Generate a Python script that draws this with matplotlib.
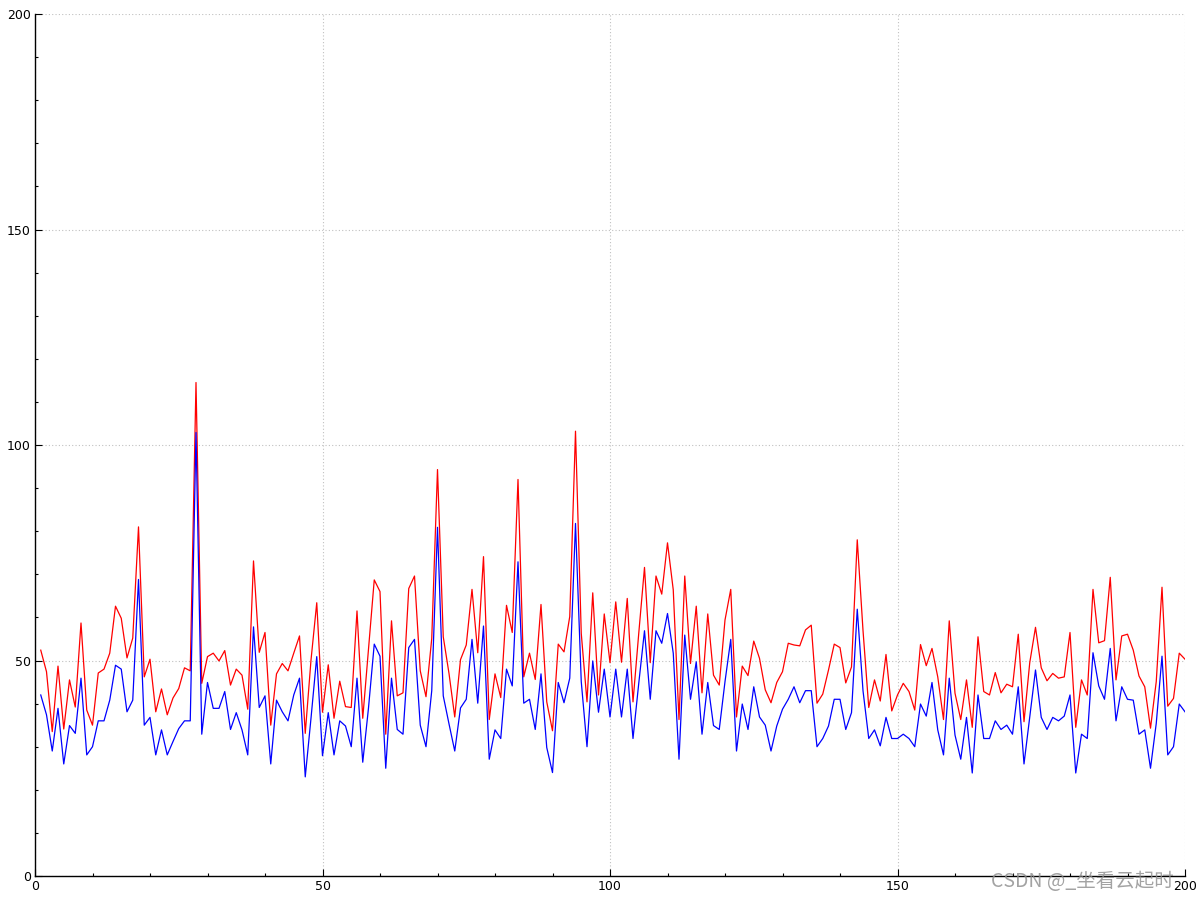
import numpy as np
import matplotlib
matplotlib.use("Agg")
import matplotlib.pyplot as plt
from matplotlib.ticker import MultipleLocator

# x positions 1..200
x_values = list(range(1, 201))

red_values = [
    52.4, 47.4, 33.5, 48.7, 34.1, 45.5, 39.2, 58.7, 38.5, 35.0,
    47.1, 48.0, 51.7, 62.6, 59.8, 50.6, 55.2, 81.0, 46.2, 50.3,
    38.1, 43.4, 37.4, 41.3, 43.5, 48.3, 47.6, 114.5, 44.7, 50.9,
    51.7, 49.9, 52.3, 44.3, 48.0, 46.6, 38.7, 73.1, 51.9, 56.5,
    35.0, 46.9, 49.3, 47.6, 51.7, 55.7, 33.1, 50.1, 63.4, 38.0,
    49.0, 36.6, 45.2, 39.3, 39.1, 61.5, 36.6, 52.6, 68.7, 66.0,
    32.9, 59.2, 41.8, 42.5, 66.7, 69.6, 47.6, 41.6, 55.1, 94.3,
    55.5, 47.0, 36.9, 50.2, 53.6, 66.5, 51.8, 74.1, 36.3, 46.9,
    41.4, 62.8, 56.5, 92.0, 46.2, 51.7, 45.6, 63.0, 40.4, 33.7,
    53.8, 52.0, 60.2, 103.2, 56.3, 40.4, 65.7, 42.0, 60.8, 49.5,
    63.6, 49.6, 64.4, 40.4, 56.3, 71.6, 49.5, 69.6, 65.4, 77.3,
    66.4, 36.3, 69.6, 49.3, 62.6, 42.5, 60.8, 46.6, 44.3, 59.4,
    66.5, 36.9, 48.7, 46.5, 54.5, 50.5, 43.2, 40.2, 44.9, 47.4,
    54.0, 53.6, 53.4, 57.1, 58.2, 40.1, 42.2, 47.8, 53.8, 53.0,
    44.8, 48.5, 78.0, 57.0, 39.1, 45.5, 40.6, 51.4, 38.3, 42.0,
    44.7, 42.8, 38.5, 53.7, 48.8, 52.8, 46.2, 36.3, 59.2, 42.4,
    36.3, 45.5, 34.5, 55.5, 42.8, 42.0, 47.2, 42.5, 44.5, 43.9,
    56.1, 35.8, 49.5, 57.7, 48.3, 45.3, 47.0, 45.9, 46.2, 56.5,
    34.5, 45.5, 42.0, 66.5, 54.1, 54.6, 69.3, 45.5, 55.7, 56.1,
    52.4, 46.4, 43.9, 34.3, 45.1, 67.0, 39.4, 41.2, 51.7, 50.3,
]

blue_values = [
    42.0, 37.4, 29.0, 38.9, 26.0, 34.9, 33.1, 45.9, 28.1, 30.0,
    36.0, 36.0, 40.8, 48.9, 48.0, 38.1, 40.8, 68.8, 35.0, 36.8,
    28.1, 33.9, 28.1, 31.2, 34.2, 36.0, 36.0, 102.9, 32.9, 44.9,
    38.9, 38.9, 42.8, 34.0, 37.9, 33.9, 28.1, 57.8, 39.1, 41.8,
    26.0, 40.8, 38.1, 36.0, 42.0, 45.9, 23.0, 36.6, 50.9, 27.9,
    37.9, 28.1, 36.0, 34.8, 30.0, 45.9, 26.4, 39.0, 53.8, 51.0,
    25.0, 45.9, 34.0, 32.9, 53.0, 54.9, 35.0, 30.0, 43.0, 80.9,
    41.8, 35.3, 29.0, 39.0, 41.0, 54.9, 40.1, 58.0, 27.1, 33.9,
    31.9, 48.0, 44.1, 72.9, 40.1, 41.0, 34.0, 46.9, 29.8, 24.0,
    44.9, 40.2, 45.9, 81.8, 45.1, 30.0, 49.9, 38.0, 48.0, 36.9,
    48.0, 36.9, 48.0, 31.9, 44.7, 56.9, 41.0, 56.9, 54.0, 60.9,
    51.7, 27.1, 55.9, 41.0, 49.7, 32.9, 44.9, 34.9, 34.0, 45.1,
    54.9, 29.0, 39.9, 34.0, 43.9, 36.9, 35.0, 29.0, 34.8, 38.7,
    41.0, 43.9, 40.2, 43.0, 43.0, 30.0, 31.9, 34.8, 41.0, 41.0,
    34.0, 37.9, 61.9, 43.0, 31.9, 33.9, 30.2, 36.8, 31.9, 31.9,
    32.9, 31.9, 30.0, 39.9, 37.1, 44.9, 33.9, 28.1, 45.9, 32.7,
    27.1, 36.8, 23.9, 42.0, 31.9, 31.9, 36.0, 34.0, 35.0, 32.9,
    43.9, 26.0, 36.9, 47.8, 36.8, 34.0, 36.8, 36.0, 37.1, 42.0,
    23.9, 32.9, 31.9, 51.8, 44.1, 41.0, 52.8, 36.0, 43.9, 41.0,
    40.8, 32.9, 33.9, 25.0, 35.4, 51.0, 28.1, 30.0, 39.9, 38.1,
]

fig = plt.figure(figsize=(12, 9), dpi=100)
ax = fig.add_axes([35 / 1200, 24 / 900, 1150 / 1200, 862 / 900])

ax.plot(x_values, red_values, color="#ff0000", lw=0.9)
ax.plot(x_values, blue_values, color="#0000ff", lw=0.9)

ax.set_xlim(0, 200)
ax.set_ylim(0, 200)

ax.xaxis.set_major_locator(MultipleLocator(50))
ax.xaxis.set_minor_locator(MultipleLocator(10))
ax.yaxis.set_major_locator(MultipleLocator(50))
ax.yaxis.set_minor_locator(MultipleLocator(10))

ax.grid(True, which="major", color="#c0c0c0", linestyle=(0, (1, 2)), lw=0.8)

for side in ["top", "right"]:
    ax.spines[side].set_visible(False)
for side in ["left", "bottom"]:
    ax.spines[side].set_color("black")
    ax.spines[side].set_linewidth(1.0)

ax.tick_params(which="major", direction="in", length=5, width=0.8, labelsize=9, pad=3)
ax.tick_params(which="minor", direction="in", length=2.5, width=0.8)

# watermark
fig.text(0.978, 0.021, "CSDN @_坐看云起时", ha="right", va="center",
         fontsize=14, color=(0.55, 0.55, 0.55, 0.8),
         family=["Noto Sans CJK SC", "DejaVu Sans"])

fig.savefig("out.png", dpi=100)
